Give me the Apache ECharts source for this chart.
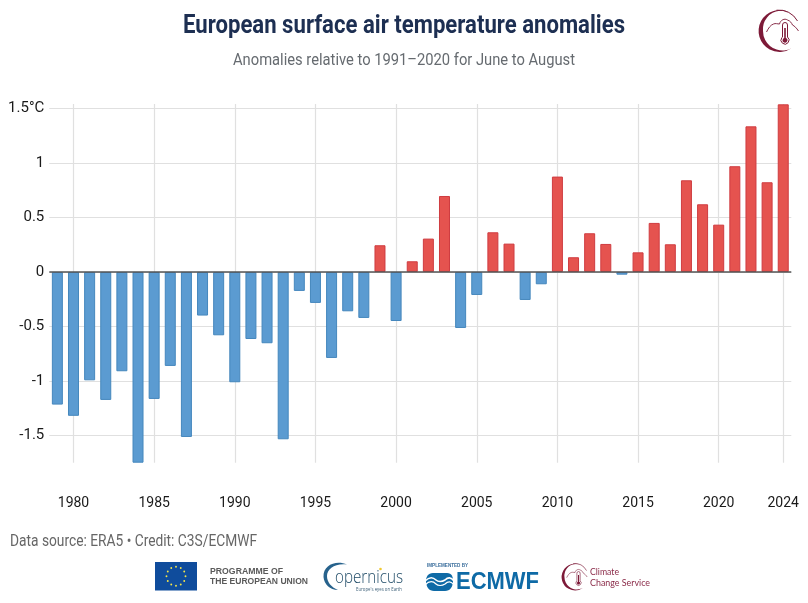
<!DOCTYPE html>
<html>
<head>
<meta charset="utf-8">
<style>html,body{margin:0;padding:0;background:#fff}#c{width:808px;height:603px}</style>
<script src="https://cdn.jsdelivr.net/npm/echarts@6/dist/echarts.min.js"></script>
</head>
<body>
<div id="c"></div>
<script>
const years = [1979,1980,1981,1982,1983,1984,1985,1986,1987,1988,1989,1990,1991,1992,1993,1994,1995,1996,1997,1998,1999,2000,2001,2002,2003,2004,2005,2006,2007,2008,2009,2010,2011,2012,2013,2014,2015,2016,2017,2018,2019,2020,2021,2022,2023,2024];
const anomalies = [-1.217,-1.32,-0.994,-1.174,-0.911,-1.75,-1.165,-0.862,-1.514,-0.40,-0.581,-1.012,-0.615,-0.654,-1.535,-0.174,-0.284,-0.789,-0.361,-0.422,0.245,-0.45,0.098,0.306,0.697,-0.514,-0.211,0.364,0.26,-0.257,-0.113,0.875,0.135,0.355,0.257,-0.025,0.18,0.45,0.254,0.841,0.621,0.434,0.97,1.336,0.823,1.538];
const yTicks = [-1.5,-1,-0.5,0,0.5,1,1.5];
const xLabelYears = [1980,1985,1990,1995,2000,2005,2010,2015,2020,2024];
const titleText = 'European surface air temperature anomalies';
const subtitleText = 'Anomalies relative to 1991\u20132020 for June to August';
const sourceText = 'Data source: ERA5 \u2022 Credit: C3S/ECMWF';

const measure = document.createElement('canvas').getContext('2d');
function fitted(text, x, y, font, width, fill) {
  measure.font = font;
  const s = width / measure.measureText(text).width;
  return {type:'text', x, y, scaleX:s, silent:true,
    style:{text, font, fill, align:'left', verticalAlign:'middle'}};
}
let shapeCount = 0;
function pth(d, style) {
  const name = 'logoPath' + (shapeCount++);
  echarts.graphic.registerShape(name, echarts.graphic.extendPath(d, {}));
  return {type:name, silent:true, style};
}
function logoMark(cx, cy, scale) {
  const col = '#7d1a38';
  return {type:'group', x:cx, y:cy, scaleX:scale, scaleY:scale, silent:true, children:[
    pth('M10,-18.5 A21,21 0 1 0 12,17.3 A19.5,19.5 0 0 1 -16.5,0 A18.5,18.5 0 0 1 10,-18.5 Z', {fill:col}),
    pth('M-3,-20.8 A21,21 0 0 1 18,-10', {fill:'none',stroke:col,lineWidth:1}),
    pth('M-13,1 C-11,-3 -9,-6 -6,-7 C-4,-8 -2,-7 0,-7 C1,-11 5,-13 8,-11 C11,-10 12,-8 13,-6 C15,-5 17,-3 19,0', {fill:'none',stroke:col,lineWidth:0.9}),
    pth('M3,-6 A2.4,2.4 0 0 1 8,-6 L8,6 A4,4 0 1 1 3,6 Z', {fill:'#fff',stroke:col,lineWidth:1}),
    pth('M4.7,-3 L6.3,-3 L6.3,7 A2.4,2.4 0 1 1 4.7,7 Z', {fill:col})
  ]};
}
function euStars() {
  const out = [];
  for (let i = 0; i < 12; i++) {
    const a = i * Math.PI / 6;
    out.push({type:'circle', silent:true, shape:{cx:176 + 9.5*Math.cos(a), cy:576.3 + 9.5*Math.sin(a), r:0.95}, style:{fill:'#f4e64a'}});
  }
  return out;
}
const logos = [
  {type:'rect', silent:true, shape:{x:155,y:562,width:42,height:28.5}, style:{fill:'#0f4c9c'}},
  ...euStars(),
  fitted('PROGRAMME OF', 210, 572, '600 8.5px "Liberation Sans"', 73, '#5a5a5a'),
  fitted('THE EUROPEAN UNION', 210, 581.5, '600 8.5px "Liberation Sans"', 98, '#5a5a5a'),
  pth('M347,564.5 C336,560 323,565 323.5,577 C324,584 330,590 338,590 C331,587 327,582 327,576 C327,569 335,563 347,564.5 Z', {fill:'#27628c'}),
  fitted('opernicus', 335, 578, '300 19px "Open Sans"', 68, '#1e4a66'),
  {type:'circle', silent:true, shape:{cx:380.5,cy:569,r:1.3}, style:{fill:'#f0c830'}},
  fitted("Europe's eyes on Earth", 356, 589.5, '5px "Open Sans"', 46, '#3d6079'),
  fitted('IMPLEMENTED BY', 427, 565.5, '700 5px "Liberation Sans"', 41, '#3c6f9d'),
  pth('M433,573 L447,573 C452,573 453,577 453,581 C453,587 450,591 445,591 L434,591 C429,591 426,587 426,581 C426,577 428,573 433,573 Z', {fill:'#0e6aa6'}),
  pth('M425,581 C429,577 433,577 436,580 C438,582 442,582 445,580 C448,577 451,577 454,581', {fill:'none',stroke:'#fff',lineWidth:1.6}),
  pth('M425,585 C429,581 433,581 436,584 C438,586 442,586 445,584 C448,581 451,581 454,585', {fill:'none',stroke:'#fff',lineWidth:1.2}),
  fitted('ECMWF', 456, 582.5, '700 24px "Liberation Sans"', 83, '#0e6aa6'),
  logoMark(575, 577, 0.64),
  fitted('Climate', 590, 572, '10px "Lato"', 29, '#8a2a48'),
  fitted('Change Service', 590, 583, '10px "Lato"', 60, '#8a2a48'),
  logoMark(779.5, 31, 1),
  fitted(titleText, 183, 26.5, '700 26px "Roboto"', 442, '#1d2f52'),
  fitted(subtitleText, 233, 60.5, '16px "Roboto"', 342, '#666b70'),
  fitted(sourceText, 10, 542, '16px "Roboto"', 247, '#666666')
];

const chart = echarts.init(document.getElementById('c'), null, {renderer:'canvas'});
chart.setOption({
  animation:false,
  backgroundColor:'#ffffff',
  grid:{left:49.3, top:104.1, width:742, height:358.6, containLabel:false},
  xAxis:{
    type:'category',
    data:years,
    position:'bottom',
    axisLine:{show:false, onZero:false},
    axisTick:{show:false, alignWithLabel:true, interval:(i,v)=>xLabelYears.includes(+v)},
    axisLabel:{interval:(i,v)=>xLabelYears.includes(+v), margin:34, color:'#1a1a1a', fontFamily:'Roboto', fontSize:14, hideOverlap:false},
    splitLine:{show:true, alignWithLabel:true, interval:(i,v)=>xLabelYears.includes(+v), lineStyle:{color:'#e0e0e0', width:1.2}}
  },
  yAxis:{
    type:'value',
    min:-1.75,
    max:1.54,
    axisLine:{show:false},
    axisTick:{show:false, customValues:yTicks},
    axisLabel:{customValues:yTicks, margin:5, color:'#1a1a1a', fontFamily:'Roboto', fontSize:15, padding:[4,0,0,0],
      formatter:v=> v===1.5 ? '1.5\u00b0C' : String(v)},
    splitLine:{show:true, lineStyle:{color:'#e0e0e0', width:1.2}}
  },
  series:[{
    type:'bar',
    barWidth:11,
    data:anomalies.map(v=>({value:v, itemStyle: v>=0
      ? {color:'#e5534f', borderColor:'#cf3c40', borderWidth:1}
      : {color:'#5b9bd1', borderColor:'#4587bd', borderWidth:1}})),
    markLine:{silent:true, symbol:'none', label:{show:false}, animation:false,
      lineStyle:{color:'#555555', width:1.5, type:'solid'}, data:[{yAxis:0}]}
  }],
  graphic:{elements:logos}
});
</script>
</body>
</html>
